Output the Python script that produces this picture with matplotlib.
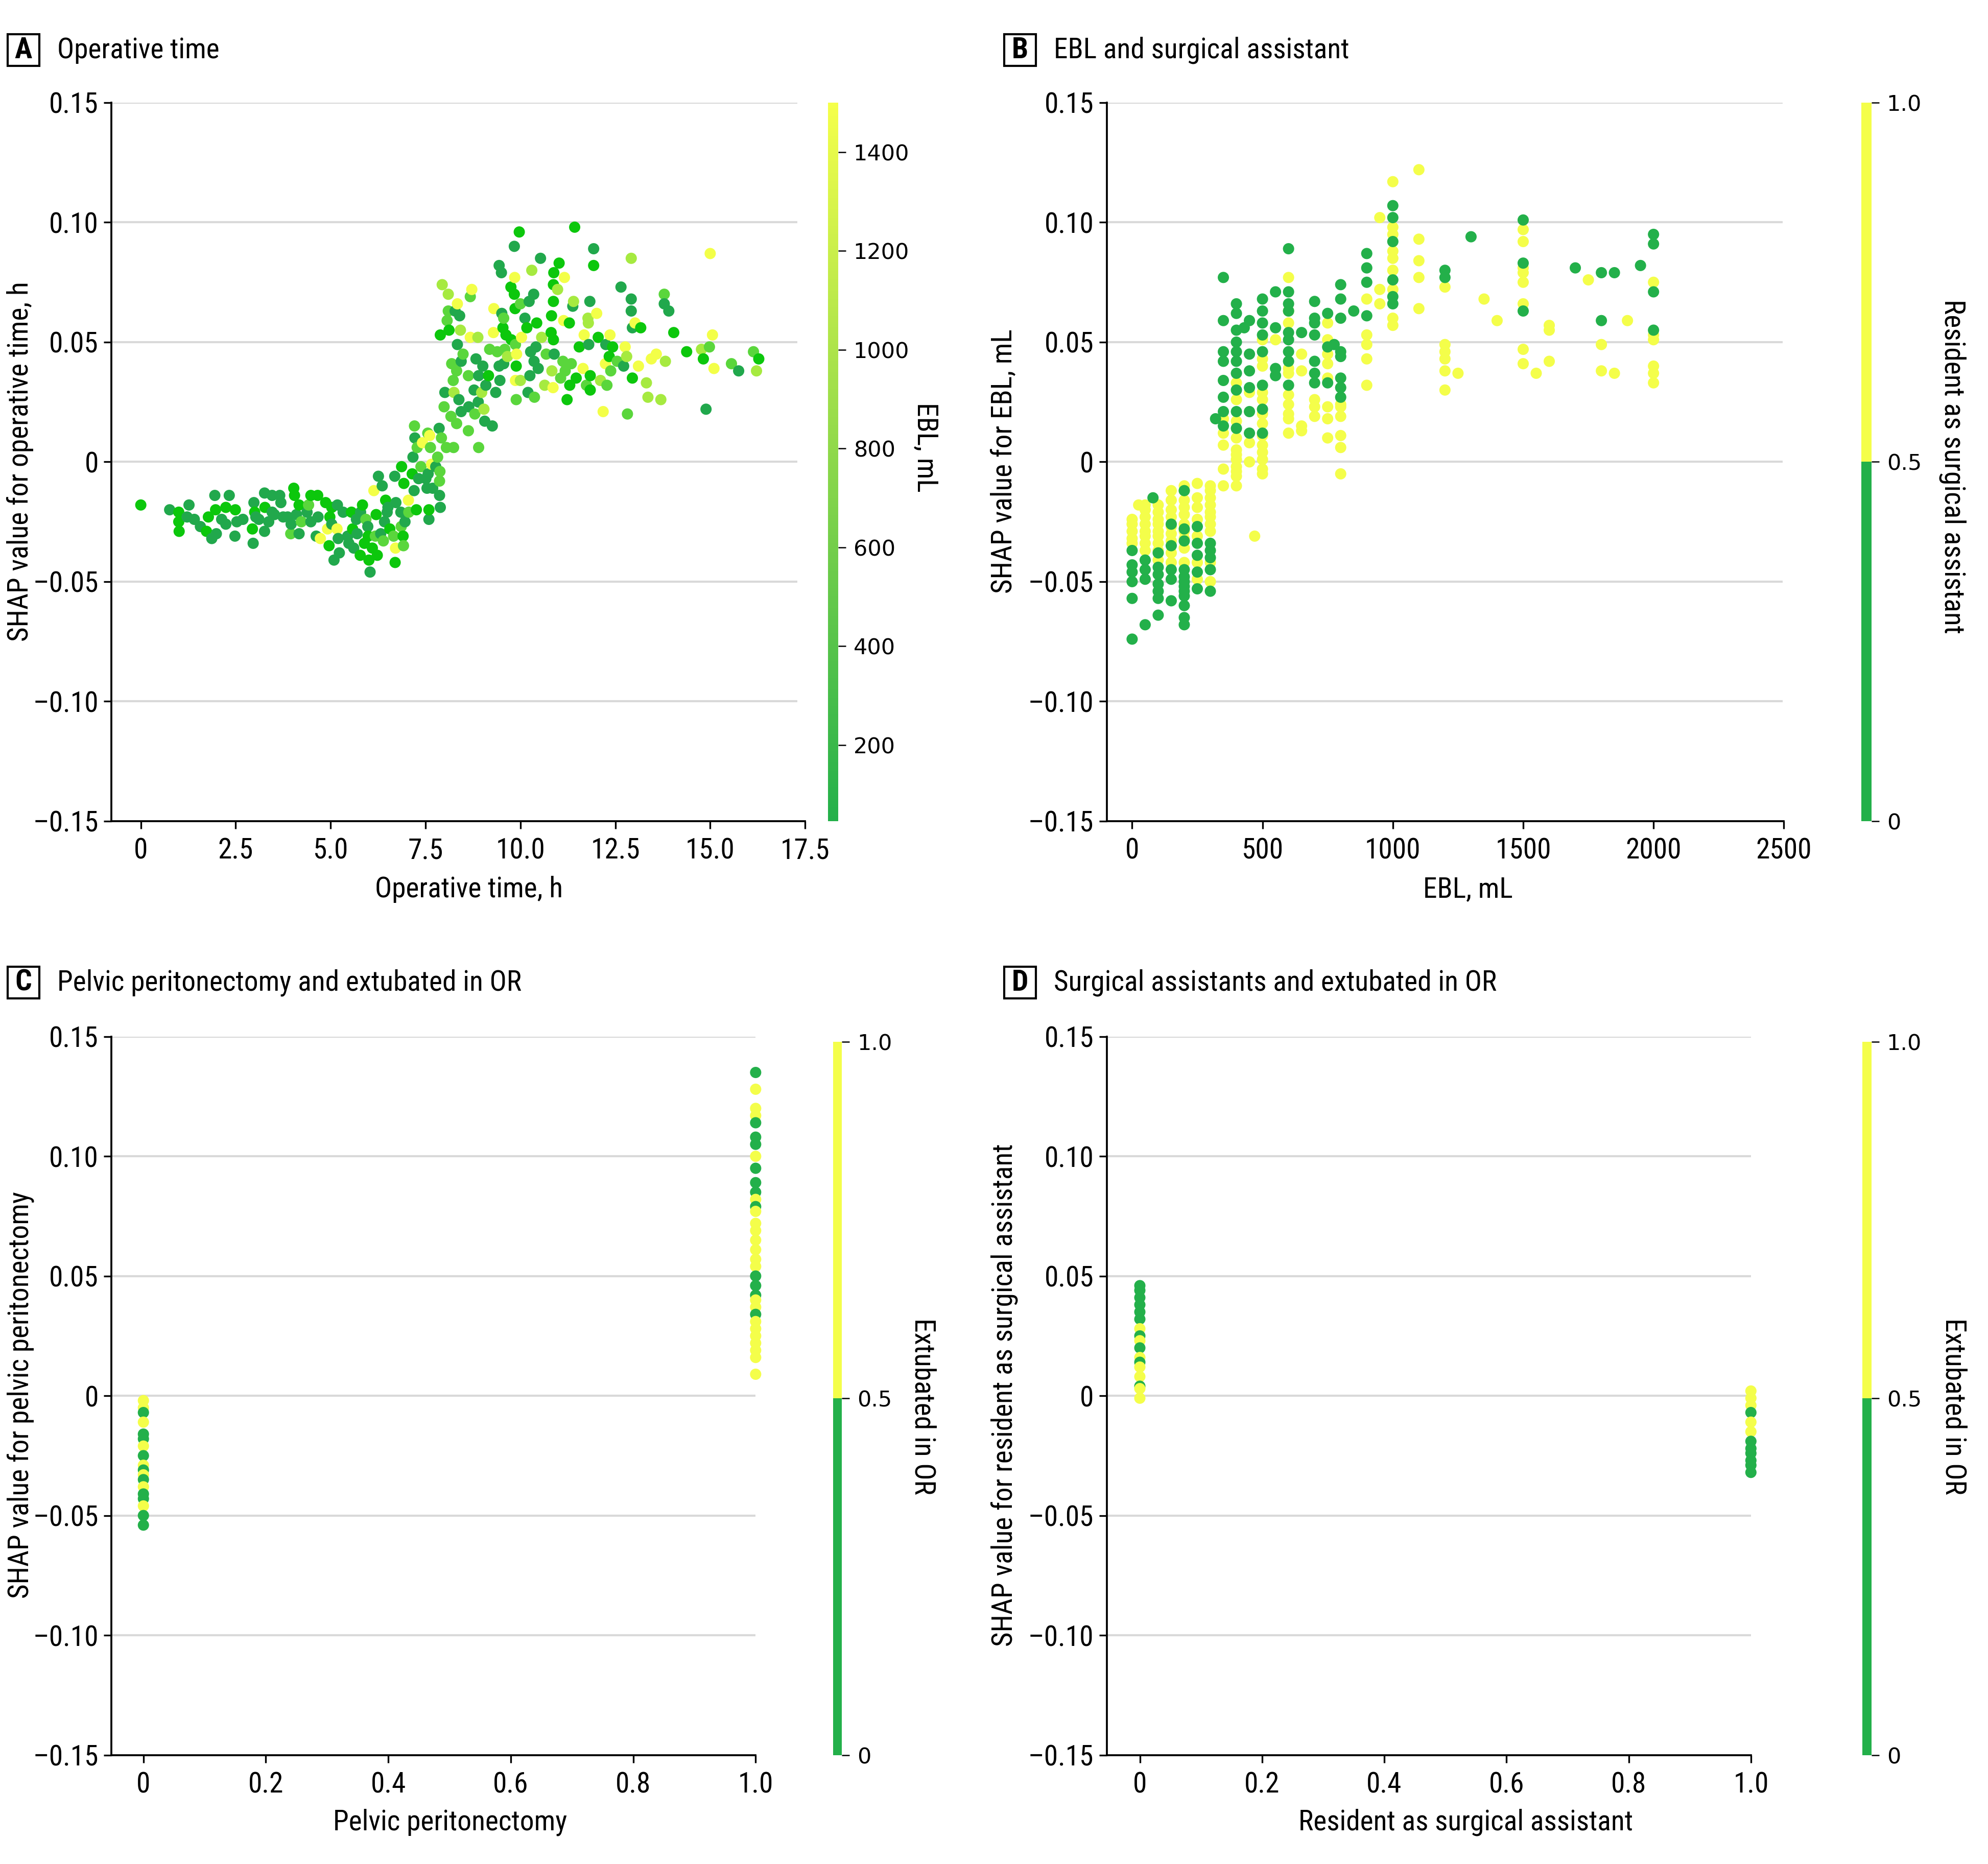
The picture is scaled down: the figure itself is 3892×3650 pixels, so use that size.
import matplotlib
matplotlib.use("Agg")
import matplotlib.pyplot as plt
from matplotlib import font_manager
from matplotlib.colors import LinearSegmentedColormap, ListedColormap, Normalize
from matplotlib.cm import ScalarMappable
from matplotlib.patches import Rectangle
import numpy as np

# ---------------- data ----------------
# Panel A: operative time (h), SHAP value, EBL (mL) used for colour
op_time = [
    0.00, 0.76, 1.00, 1.00, 1.01, 1.22, 1.27, 1.41, 1.57, 1.73,
    1.78, 1.87, 1.95, 1.97, 1.99, 2.13, 2.24, 2.24, 2.33, 2.49,
    2.48, 2.53, 2.69, 2.94, 2.96, 2.98, 3.00, 3.03, 3.11, 3.26,
    3.27, 3.26, 3.37, 3.46, 3.46, 3.52, 3.66, 3.69, 3.75, 3.87,
    3.95, 3.96, 4.03, 4.05, 4.10, 4.17, 4.17, 4.23, 4.38, 4.42,
    4.48, 4.48, 4.62, 4.66, 4.67, 4.73, 4.87, 4.92, 4.96, 4.98,
    5.03, 5.03, 5.09, 5.17, 5.18, 5.20, 5.23, 5.33, 5.45, 5.48,
    5.55, 5.58, 5.61, 5.68, 5.70, 5.78, 5.79, 5.84, 5.89, 5.93,
    5.98, 5.99, 6.01, 6.04, 6.10, 6.14, 6.18, 6.20, 6.23, 6.26,
    6.32, 6.36, 6.39, 6.42, 6.45, 6.49, 6.51, 6.56, 6.66, 6.69,
    6.70, 6.71, 6.72, 6.85, 6.86, 6.87, 6.91, 6.92, 6.93, 6.96,
    7.05, 7.06, 7.15, 7.17, 7.20, 7.21, 7.22, 7.26, 7.28, 7.32,
    7.38, 7.42, 7.51, 7.54, 7.56, 7.57, 7.59, 7.59, 7.61, 7.63,
    7.66, 7.69, 7.77, 7.82, 7.86, 7.87, 7.87, 7.88, 7.89, 7.92,
    7.94, 7.89, 7.99, 8.01, 8.05, 8.07, 8.10, 8.10, 8.12, 8.17,
    8.19, 8.23, 8.24, 8.25, 8.28, 8.32, 8.32, 8.34, 8.34, 8.38,
    8.40, 8.42, 8.44, 8.44, 8.49, 8.63, 8.63, 8.64, 8.68, 8.68,
    8.72, 8.78, 8.80, 8.83, 8.88, 8.89, 8.90, 8.90, 8.98, 9.01,
    9.04, 9.06, 9.09, 9.16, 9.19, 9.26, 9.29, 9.30, 9.35, 9.39,
    9.44, 9.44, 9.46, 9.50, 9.51, 9.54, 9.56, 9.56, 9.59, 9.62,
    9.66, 9.75, 9.76, 9.84, 9.84, 9.85, 9.86, 9.87, 9.87, 9.89,
    9.89, 9.90, 9.97, 10.00, 10.00, 10.03, 10.12, 10.17, 10.20, 10.23,
    10.25, 10.27, 10.30, 10.35, 10.36, 10.37, 10.41, 10.43, 10.47, 10.53,
    10.56, 10.64, 10.68, 10.81, 10.82, 10.83, 10.86, 10.87, 10.87, 10.87,
    10.88, 10.89, 10.98, 11.02, 11.06, 11.12, 11.14, 11.16, 11.18, 11.23,
    11.29, 11.30, 11.34, 11.38, 11.40, 11.43, 11.47, 11.55, 11.65, 11.68,
    11.74, 11.78, 11.79, 11.80, 11.83, 11.84, 11.84, 11.93, 11.93, 12.01,
    12.05, 12.11, 12.18, 12.24, 12.25, 12.28, 12.34, 12.36, 12.38, 12.43,
    12.55, 12.65, 12.72, 12.76, 12.80, 12.82, 12.92, 12.92, 12.92, 12.95,
    12.95, 13.02, 13.11, 13.17, 13.32, 13.36, 13.45, 13.58, 13.70, 13.79,
    13.79, 13.82, 13.91, 14.04, 14.38, 14.77, 14.82, 14.89, 14.98, 15.00,
    15.06, 15.10, 15.56, 15.75, 16.14, 16.22, 16.28,
]
shap_op = [
    -0.018, -0.020, -0.021, -0.025, -0.029, -0.023, -0.018, -0.024, -0.027, -0.029,
    -0.023, -0.032, -0.014, -0.020, -0.030, -0.024, -0.019, -0.026, -0.014, -0.020,
    -0.031, -0.025, -0.024, -0.028, -0.034, -0.017, -0.021, -0.023, -0.024, -0.013,
    -0.019, -0.029, -0.025, -0.014, -0.021, -0.022, -0.014, -0.017, -0.023, -0.023,
    -0.030, -0.026, -0.011, -0.014, -0.022, -0.018, -0.030, -0.025, -0.021, -0.018,
    -0.014, -0.025, -0.031, -0.014, -0.023, -0.032, -0.017, -0.028, -0.035, -0.023,
    -0.019, -0.026, -0.041, -0.028, -0.018, -0.032, -0.038, -0.021, -0.031, -0.034,
    -0.021, -0.028, -0.036, -0.024, -0.030, -0.039, -0.021, -0.018, -0.034, -0.024,
    -0.027, -0.031, -0.041, -0.046, -0.036, -0.012, -0.031, -0.022, -0.039, -0.006,
    -0.030, -0.010, -0.033, -0.025, -0.016, -0.021, -0.019, -0.028, -0.031, -0.006,
    -0.042, -0.036, -0.017, -0.021, -0.027, -0.002, -0.031, -0.035, -0.009, -0.025,
    -0.016, -0.021, -0.005, 0.002, -0.012, 0.015, 0.010, -0.020, 0.006, -0.007,
    -0.002, 0.008, -0.007, -0.011, 0.012, -0.005, -0.024, -0.020, 0.011, 0.006,
    -0.001, -0.011, -0.002, 0.002, 0.014, -0.008, -0.014, -0.004, -0.019, 0.010,
    0.074, 0.053, 0.023, 0.029, 0.006, 0.059, 0.070, 0.063, 0.055, 0.019,
    0.041, 0.034, 0.006, 0.029, 0.063, 0.016, 0.038, 0.066, 0.049, 0.026,
    0.061, 0.055, 0.042, 0.021, 0.045, 0.036, 0.013, 0.023, 0.069, 0.052,
    0.072, 0.030, 0.020, 0.043, 0.052, 0.025, 0.036, 0.006, 0.029, 0.040,
    0.022, 0.017, 0.032, 0.036, 0.047, 0.015, 0.054, 0.064, 0.029, 0.046,
    0.082, 0.040, 0.034, 0.079, 0.062, 0.056, 0.060, 0.041, 0.047, 0.053,
    0.044, 0.073, 0.051, 0.090, 0.070, 0.077, 0.064, 0.049, 0.034, 0.026,
    0.040, 0.045, 0.096, 0.066, 0.034, 0.052, 0.060, 0.056, 0.029, 0.067,
    0.036, 0.046, 0.080, 0.070, 0.042, 0.027, 0.048, 0.058, 0.039, 0.085,
    0.052, 0.032, 0.045, 0.054, 0.061, 0.038, 0.031, 0.067, 0.051, 0.074,
    0.079, 0.045, 0.072, 0.083, 0.035, 0.042, 0.059, 0.077, 0.038, 0.026,
    0.058, 0.032, 0.041, 0.065, 0.067, 0.098, 0.035, 0.048, 0.039, 0.053,
    0.032, 0.060, 0.058, 0.049, 0.067, 0.036, 0.030, 0.089, 0.082, 0.062,
    0.052, 0.034, 0.021, 0.041, 0.049, 0.032, 0.044, 0.053, 0.038, 0.048,
    0.042, 0.073, 0.040, 0.048, 0.044, 0.020, 0.085, 0.068, 0.063, 0.035,
    0.056, 0.058, 0.040, 0.056, 0.033, 0.027, 0.043, 0.045, 0.026, 0.070,
    0.066, 0.042, 0.063, 0.054, 0.046, 0.047, 0.043, 0.022, 0.048, 0.087,
    0.053, 0.039, 0.041, 0.038, 0.046, 0.038, 0.043,
]
ebl_op = [
    200, 80, 200, 200, 200, 80, 80, 80, 80, 200,
    200, 80, 80, 200, 80, 80, 200, 80, 80, 200,
    80, 80, 80, 200, 80, 80, 200, 80, 80, 80,
    200, 80, 80, 80, 80, 80, 80, 80, 80, 80,
    500, 80, 200, 200, 80, 200, 80, 500, 80, 500,
    200, 80, 80, 200, 80, 1400, 200, 1400, 200, 200,
    200, 80, 80, 1400, 80, 80, 80, 80, 80, 80,
    200, 200, 80, 80, 80, 200, 80, 200, 200, 500,
    80, 200, 200, 80, 200, 1400, 500, 200, 200, 80,
    80, 80, 500, 80, 200, 80, 80, 200, 500, 80,
    200, 1400, 80, 80, 500, 200, 200, 500, 200, 80,
    1400, 500, 200, 80, 80, 500, 80, 200, 500, 80,
    500, 1400, 80, 80, 500, 80, 80, 200, 1400, 500,
    1400, 80, 80, 500, 80, 500, 80, 500, 80, 500,
    900, 200, 500, 80, 500, 500, 900, 500, 200, 500,
    500, 500, 500, 900, 80, 500, 500, 1400, 80, 80,
    80, 900, 80, 80, 500, 500, 500, 80, 500, 1400,
    1400, 80, 500, 80, 900, 80, 80, 500, 900, 80,
    900, 80, 80, 200, 500, 80, 1400, 1400, 80, 500,
    80, 80, 80, 80, 80, 200, 500, 80, 500, 200,
    900, 200, 200, 80, 200, 1400, 200, 500, 1400, 500,
    200, 1400, 200, 500, 900, 1400, 80, 200, 80, 80,
    80, 80, 900, 80, 80, 500, 80, 200, 80, 80,
    900, 900, 500, 200, 200, 900, 1400, 200, 200, 200,
    200, 80, 900, 200, 500, 500, 1400, 1400, 500, 200,
    200, 200, 500, 80, 900, 200, 200, 200, 1400, 1400,
    500, 900, 900, 80, 80, 200, 200, 80, 200, 1400,
    200, 900, 1400, 1400, 80, 500, 200, 1400, 500, 200,
    500, 80, 80, 1400, 900, 500, 900, 80, 80, 200,
    80, 1400, 1400, 200, 900, 900, 1400, 1400, 900, 500,
    80, 900, 80, 200, 200, 900, 200, 80, 500, 1400,
    1400, 1400, 500, 80, 500, 900, 200,
]

# Panel B: EBL levels with SHAP values, split by resident as surgical assistant
ebl_levels_res = [0, 25, 50, 100, 150, 200, 250, 300, 350, 400, 450, 470, 500, 550,
                  600, 650, 700, 750, 800, 900, 950, 1000, 1100, 1200, 1250, 1350,
                  1400, 1500, 1550, 1600, 1750, 1800, 1850, 1900, 2000]
shap_ebl_res = [
    [-0.024, -0.026, -0.029, -0.032, -0.034],
    [-0.018],
    [-0.018, -0.020, -0.023, -0.026, -0.029, -0.031, -0.034, -0.037],
    [-0.018, -0.021, -0.024, -0.026, -0.029, -0.031, -0.034, -0.037, -0.041],
    [-0.012, -0.016, -0.020, -0.023, -0.027, -0.030, -0.033, -0.038, -0.042],
    [-0.010, -0.012, -0.016, -0.019, -0.022, -0.026, -0.029, -0.032, -0.036, -0.042],
    [-0.009, -0.015, -0.019, -0.024, -0.031, -0.042, -0.049],
    [-0.010, -0.012, -0.015, -0.018, -0.021, -0.023, -0.026, -0.029, -0.042, -0.050],
    [0.018, 0.012, 0.007, -0.003, -0.010],
    [0.033, 0.026, 0.017, 0.010, 0.005, 0.003, 0.001, -0.002, -0.004, -0.006, -0.010],
    [0.029, 0.008, 0.000],
    [-0.031],
    [0.051, 0.043, 0.040, 0.029, 0.026, 0.020, 0.016, 0.011, 0.007, 0.004, 0.001, -0.003, -0.005],
    [0.051],
    [0.077, 0.063, 0.058, 0.039, 0.037, 0.028, 0.024, 0.020, 0.018, 0.012],
    [0.045, 0.038, 0.015, 0.013],
    [0.026, 0.023, 0.019],
    [0.058, 0.051, 0.045, 0.041, 0.035, 0.023, 0.018, 0.010],
    [0.024, 0.023, 0.019, 0.011, 0.006, -0.005],
    [0.068, 0.053, 0.049, 0.043, 0.032],
    [0.102, 0.072, 0.066],
    [0.117, 0.098, 0.095, 0.088, 0.085, 0.080, 0.072, 0.060, 0.057],
    [0.122, 0.093, 0.084, 0.077, 0.064],
    [0.073, 0.049, 0.046, 0.043, 0.038, 0.030],
    [0.037],
    [0.068],
    [0.059],
    [0.097, 0.092, 0.081, 0.079, 0.075, 0.066, 0.047, 0.041],
    [0.037],
    [0.057, 0.055, 0.042],
    [0.076],
    [0.049, 0.038],
    [0.037],
    [0.059],
    [0.075, 0.053, 0.051, 0.040, 0.037, 0.033],
]
ebl_levels_nores = [0, 50, 80, 100, 150, 200, 250, 300, 320, 350, 400, 430, 450, 500,
                    550, 600, 650, 700, 750, 775, 800, 850, 900, 1000, 1200, 1300,
                    1500, 1700, 1800, 1850, 1950, 2000]
shap_ebl_nores = [
    [-0.037, -0.043, -0.046, -0.050, -0.057, -0.074],
    [-0.041, -0.045, -0.049, -0.068],
    [-0.015],
    [-0.038, -0.044, -0.047, -0.051, -0.054, -0.057, -0.064],
    [-0.026, -0.035, -0.045, -0.049, -0.058],
    [-0.012, -0.028, -0.033, -0.045, -0.048, -0.050, -0.052, -0.054, -0.056, -0.060, -0.065, -0.068],
    [-0.027, -0.034, -0.039, -0.046, -0.053],
    [-0.034, -0.037, -0.040, -0.045, -0.054],
    [0.018],
    [0.077, 0.059, 0.046, 0.042, 0.034, 0.027, 0.021, 0.015],
    [0.066, 0.062, 0.055, 0.050, 0.046, 0.042, 0.037, 0.030, 0.021, 0.014],
    [0.056],
    [0.059, 0.045, 0.038, 0.031, 0.021, 0.012],
    [0.068, 0.063, 0.058, 0.053, 0.046, 0.032, 0.022, 0.012],
    [0.071, 0.056, 0.039, 0.036],
    [0.089, 0.071, 0.066, 0.063, 0.054, 0.051, 0.046, 0.042, 0.032],
    [0.054],
    [0.067, 0.060, 0.058, 0.053, 0.042, 0.037, 0.033],
    [0.062, 0.048, 0.033],
    [0.049],
    [0.074, 0.068, 0.060, 0.046, 0.044, 0.035, 0.031, 0.027],
    [0.063],
    [0.087, 0.081, 0.075, 0.061],
    [0.107, 0.102, 0.092, 0.076, 0.069, 0.066],
    [0.080, 0.077],
    [0.094],
    [0.101, 0.083, 0.063],
    [0.081],
    [0.079, 0.059],
    [0.079],
    [0.082],
    [0.095, 0.091, 0.071, 0.055],
]

# Panel C: pelvic peritonectomy (0 / 1), SHAP value, extubated in OR (0 / 1)
perit0_shap = [-0.002, -0.005, -0.007, -0.011, -0.016, -0.018, -0.021, -0.025, -0.029,
               -0.031, -0.033, -0.035, -0.038, -0.041, -0.043, -0.046, -0.050, -0.054]
perit0_extub = [1, 1, 0, 1, 0, 0, 1, 0, 1, 0, 1, 0, 1, 0, 0, 1, 0, 0]
perit1_shap = [0.135, 0.128, 0.120, 0.117, 0.114, 0.108, 0.105, 0.100, 0.095, 0.089,
               0.085, 0.082, 0.079, 0.077, 0.072, 0.069, 0.065, 0.061, 0.057, 0.054,
               0.050, 0.046, 0.042, 0.040, 0.037, 0.034, 0.031, 0.028, 0.025, 0.022,
               0.019, 0.016, 0.009]
perit1_extub = [0, 1, 1, 1, 0, 0, 0, 1, 0, 0, 0, 1, 0, 1, 1, 1, 1, 1, 1, 1,
                0, 0, 0, 1, 1, 0, 1, 1, 1, 1, 1, 1, 1]

# Panel D: resident as surgical assistant (0 / 1), SHAP value, extubated in OR
res0_shap = [0.046, 0.044, 0.041, 0.038, 0.035, 0.032, 0.028, 0.025, 0.023, 0.020,
             0.016, 0.014, 0.012, 0.008, 0.004, 0.003, -0.001]
res0_extub = [0, 0, 0, 0, 0, 0, 1, 0, 1, 0, 1, 0, 1, 1, 0, 1, 1]
res1_shap = [0.002, -0.001, -0.004, -0.007, -0.011, -0.015, -0.019, -0.022, -0.024,
             -0.027, -0.029, -0.032]
res1_extub = [1, 1, 1, 0, 1, 1, 0, 0, 0, 0, 0, 0]

y_ticks = [0.15, 0.10, 0.05, 0, -0.05, -0.10, -0.15]
y_ticklabels = ["0.15", "0.10", "0.05", "0", "\u20130.05", "\u20130.10", "\u20130.15"]

# ---------------- fonts ----------------
names = {f.name for f in font_manager.fontManager.ttflist}
narrow = None
for cand in ["Liberation Sans Narrow", "Roboto Condensed", "Open Sans Condensed",
             "Noto Sans Condensed", "DejaVu Sans Condensed"]:
    if cand in names:
        narrow = cand
        break
stretch = "normal"
if narrow is None:
    narrow = "DejaVu Sans"
    if any(f.name == "DejaVu Sans" and str(f.stretch) == "condensed"
           for f in font_manager.fontManager.ttflist):
        stretch = "condensed"
plt.rcParams["font.family"] = [narrow, "DejaVu Sans"]
plt.rcParams["font.stretch"] = stretch

GREEN = "#23b04a"
YELLOW = "#f4fe4a"
GRID = "#d9d9d9"
FS = 13.3
MS = 28

# layout grid measured on the reference (1568 x 1471)
W, H = 1568.0, 1471.0


def rect(x0, y0, x1, y1):
    return [x0 / W, 1 - y1 / H, (x1 - x0) / W, (y1 - y0) / H]


fig = plt.figure(figsize=(3892 / 300, 3650 / 300), dpi=300)


def style_axes(ax, xlim, xticks, xlabels, grid_end):
    ax.set_ylim(-0.15, 0.15)
    ax.set_xlim(*xlim)
    ax.set_yticks(y_ticks)
    ax.set_yticklabels(y_ticklabels)
    ax.set_xticks(xticks)
    ax.set_xticklabels(xlabels)
    for s in ["top", "right"]:
        ax.spines[s].set_visible(False)
    for s in ["left", "bottom"]:
        ax.spines[s].set_linewidth(0.9)
    ax.tick_params(axis="y", length=3.6, width=0.8, labelsize=13.3, pad=2.5)
    ax.tick_params(axis="x", length=3.6, width=0.8, labelsize=13.3, pad=4)
    ax.hlines(y_ticks, xlim[0], grid_end, colors=GRID, lw=1.0, zorder=0)


def panel_title(letter, x0, y0, text):
    fig.add_artist(Rectangle((x0 / W, 1 - (y0 + 25) / H), 25 / W, 25 / H,
                             transform=fig.transFigure, fill=False, lw=1.0, ec="black"))
    fig.text((x0 + 12.5) / W, 1 - (y0 + 12.5) / H, letter, ha="center", va="center",
             fontsize=FS + 0.5, fontweight="bold")
    fig.text((x0 + 39) / W, 1 - (y0 + 12.5) / H, text, ha="left", va="center", fontsize=FS)


def add_cbar(pos, cmap, norm, ticks, labels, label, lx, ly):
    cax = fig.add_axes(pos)
    cb = fig.colorbar(ScalarMappable(norm=norm, cmap=cmap), cax=cax)
    cb.outline.set_visible(False)
    cb.set_ticks(ticks)
    cb.set_ticklabels(labels)
    cax.tick_params(length=3.6, width=0.6, labelsize=10.3, pad=3.6)
    for t in cax.get_yticklabels():
        t.set_fontfamily("DejaVu Sans")
        t.set_fontstretch("normal")
    fig.text(lx / W, 1 - ly / H, label, rotation=270, ha="center", va="center", fontsize=FS)


# ---------------- panel A ----------------
pt_cmap = LinearSegmentedColormap.from_list("pts", [
    (0.0, "#21a84c"), (0.05, "#21a84c"), (0.09, "#0cc70c"), (0.13, "#0cc70c"),
    (0.31, "#5ad63c"), (0.59, "#a6ea40"), (0.93, "#f3ff48"), (1.0, "#f5ff4a")])
bar_cmap = LinearSegmentedColormap.from_list("bar", [GREEN, "#f5ff4a"])
ebl_norm = Normalize(46, 1500)

axA = fig.add_axes(rect(88, 81, 635, 648))
style_axes(axA, (-0.77, 17.5), [0, 2.5, 5, 7.5, 10, 12.5, 15, 17.5],
           ["0", "2.5", "5.0", "7.5", "10.0", "12.5", "15.0", "17.5"], 17.3)
axA.scatter(op_time, shap_op, c=ebl_op, cmap=pt_cmap, norm=ebl_norm, s=MS,
            linewidths=0, zorder=3, clip_on=False)
panel_title("A", 6, 27, "Operative time")
fig.text(16 / W, 1 - 364 / H, "SHAP value for operative time, h", rotation=90,
         ha="center", va="center", fontsize=FS)
fig.text(370 / W, 1 - 702 / H, "Operative time, h", ha="center", va="center", fontsize=FS)
add_cbar(rect(653, 81, 661, 648), bar_cmap, ebl_norm,
         [200, 400, 600, 800, 1000, 1200, 1400],
         ["200", "400", "600", "800", "1000", "1200", "1400"], "EBL, mL", 730, 353)

# ---------------- panel B ----------------
bin_cmap = ListedColormap([GREEN, YELLOW])
bin_norm = Normalize(0, 1)

x_res = np.repeat(ebl_levels_res, [len(v) for v in shap_ebl_res])
y_res = np.concatenate(shap_ebl_res)
x_nores = np.repeat(ebl_levels_nores, [len(v) for v in shap_ebl_nores])
y_nores = np.concatenate(shap_ebl_nores)
ebl_b = np.concatenate([x_res, x_nores])
shap_b = np.concatenate([y_res, y_nores])
resident_b = np.concatenate([np.ones(len(x_res)), np.zeros(len(x_nores))])

axB = fig.add_axes(rect(873, 81, 1407, 648))
style_axes(axB, (-97, 2500), [0, 500, 1000, 1500, 2000, 2500],
           ["0", "500", "1000", "1500", "2000", "2500"], 2495)
axB.scatter(ebl_b, shap_b, c=resident_b, cmap=bin_cmap, norm=bin_norm, s=MS,
            linewidths=0, zorder=3, clip_on=False)
panel_title("B", 792, 27, "EBL and surgical assistant")
fig.text(792 / W, 1 - 364 / H, "SHAP value for EBL, mL", rotation=90,
         ha="center", va="center", fontsize=FS)
fig.text(1158 / W, 1 - 702 / H, "EBL, mL", ha="center", va="center", fontsize=FS)
add_cbar(rect(1468, 81, 1476, 648), bin_cmap, bin_norm, [0, 0.5, 1.0],
         ["0", "0.5", "1.0"], "Resident as surgical assistant", 1540, 368)

# ---------------- panel C ----------------
perit = np.concatenate([np.zeros(len(perit0_shap)), np.ones(len(perit1_shap))])
shap_c = np.concatenate([perit0_shap, perit1_shap])
extub_c = np.concatenate([perit0_extub, perit1_extub])

axC = fig.add_axes(rect(88, 818, 596, 1385))
style_axes(axC, (-0.052, 1.0), [0, 0.2, 0.4, 0.6, 0.8, 1.0],
           ["0", "0.2", "0.4", "0.6", "0.8", "1.0"], 1.0)
axC.scatter(perit, shap_c, c=extub_c, cmap=bin_cmap, norm=bin_norm, s=MS,
            linewidths=0, zorder=3, clip_on=False)
panel_title("C", 6, 763, "Pelvic peritonectomy and extubated in OR")
fig.text(16 / W, 1 - 1101 / H, "SHAP value for pelvic peritonectomy", rotation=90,
         ha="center", va="center", fontsize=FS)
fig.text(355 / W, 1 - 1438 / H, "Pelvic peritonectomy", ha="center", va="center", fontsize=FS)
add_cbar(rect(657, 822, 664, 1385), bin_cmap, bin_norm, [0, 0.5, 1.0],
         ["0", "0.5", "1.0"], "Extubated in OR", 728, 1110)

# ---------------- panel D ----------------
resident_d = np.concatenate([np.zeros(len(res0_shap)), np.ones(len(res1_shap))])
shap_d = np.concatenate([res0_shap, res1_shap])
extub_d = np.concatenate([res0_extub, res1_extub])

axD = fig.add_axes(rect(873, 818, 1381, 1385))
style_axes(axD, (-0.054, 1.0), [0, 0.2, 0.4, 0.6, 0.8, 1.0],
           ["0", "0.2", "0.4", "0.6", "0.8", "1.0"], 1.0)
axD.scatter(resident_d, shap_d, c=extub_d, cmap=bin_cmap, norm=bin_norm, s=MS,
            linewidths=0, zorder=3, clip_on=False)
panel_title("D", 792, 763, "Surgical assistants and extubated in OR")
fig.text(792 / W, 1 - 1101 / H, "SHAP value for resident as surgical assistant", rotation=90,
         ha="center", va="center", fontsize=FS)
fig.text(1156 / W, 1 - 1438 / H, "Resident as surgical assistant", ha="center", va="center",
         fontsize=FS)
add_cbar(rect(1469, 822, 1476, 1385), bin_cmap, bin_norm, [0, 0.5, 1.0],
         ["0", "0.5", "1.0"], "Extubated in OR", 1541, 1110)

fig.savefig("out.png", dpi=300)
